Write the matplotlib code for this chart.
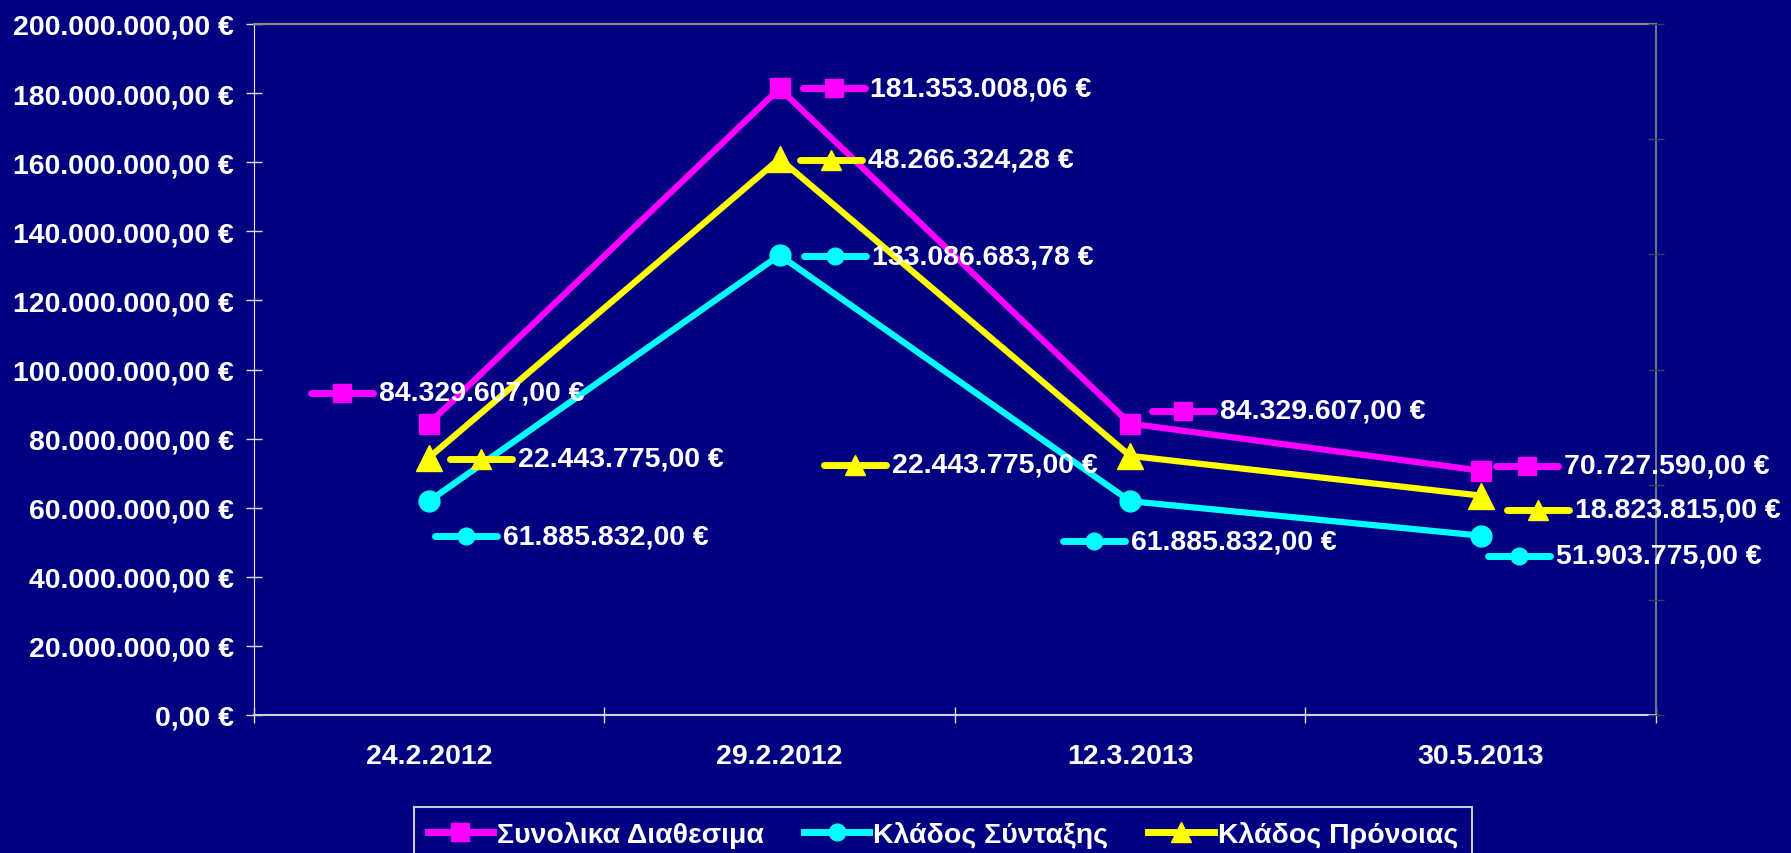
import matplotlib
matplotlib.use("Agg")
import matplotlib.pyplot as plt
import matplotlib.transforms as mtransforms
from matplotlib.lines import Line2D
from matplotlib.markers import MarkerStyle
from matplotlib.ticker import FuncFormatter

# data
dates = ["24.2.2012", "29.2.2012", "12.3.2013", "30.5.2013"]
series_names = ["Συνολικα Διαθεσιμα", "Κλάδος Σύνταξης", "Κλάδος Πρόνοιας"]

total = [84329607.00, 181353008.06, 84329607.00, 70727590.00]
pension = [61885832.00, 133086683.78, 61885832.00, 51903775.00]
# the welfare line sits higher than its own label values in the source chart
welfare_plot = [74500000, 161000000, 75000000, 63500000]
welfare_labels = [22443775.00, 48266324.28, 22443775.00, 18823815.00]

y_ticks = [0, 20e6, 40e6, 60e6, 80e6, 100e6, 120e6, 140e6, 160e6, 180e6, 200e6]

NAVY = "#000080"
colors = ["#ff00ff", "#00ffff", "#ffff00"]
markers = ["s", "o", "^"]
marker_sizes = [15, 15, 19]
key_marker_sizes = [12.5, 12, 14]

# label key offsets (pixels from the point, x to key centre, y up)
label_offsets = [
    [(-87, 31), (54, 0), (53, 13), (46, 5)],
    [(37, -35), (55, -1), (-36, -40), (38, -20)],
    [(52, -1), (51, -1), (-275, -9), (57, -14)],
]

FONT = "Liberation Sans"
FS = 20.5


def euro(v, pos=None):
    s = f"{v:,.2f}".replace(",", "X").replace(".", ",").replace("X", ".")
    return s + " €"


fig = plt.figure(figsize=(17.91, 8.54), dpi=100, facecolor=NAVY)
ax = fig.add_axes([253.6 / 1791, 1 - 716 / 854, (1656 - 253.6) / 1791, (716 - 25) / 854])
ax.set_facecolor(NAVY)

x = list(range(len(dates)))
plot_values = [total, pension, welfare_plot]
label_values = [total, pension, welfare_labels]

for vals, c, m, ms in zip(plot_values, colors, markers, marker_sizes):
    ax.plot(x, vals, color=c, lw=4.5, marker=m, ms=ms, mec=c, mfc=c, zorder=3,
            solid_joinstyle="miter")

ax.set_xlim(-0.5, len(dates) - 0.5)
ax.set_ylim(0, 200e6)

# data labels with small legend keys
key_mark = MarkerStyle("_", capstyle="round")
for s, (vals, labs, c, m) in enumerate(zip(plot_values, label_values, colors, markers)):
    for i in x:
        dx, dy = label_offsets[s][i]
        tr = mtransforms.offset_copy(ax.transData, fig=fig, x=dx, y=dy, units="dots")
        ax.plot([i], [vals[i]], marker=key_mark, ms=45, mew=5, color=c,
                transform=tr, zorder=5, clip_on=False)
        ax.plot([i], [vals[i]], marker=m, ms=key_marker_sizes[s], color=c, mec=c,
                transform=tr, zorder=6, clip_on=False)
        ax.annotate(euro(labs[i]), xy=(i, vals[i]), xytext=(dx + 37, dy),
                    textcoords="offset pixels", va="center", ha="left",
                    color="white", fontsize=FS, fontweight="bold", family=FONT,
                    zorder=7, annotation_clip=False)

# axes styling
ax.set_yticks(y_ticks)
ax.yaxis.set_major_formatter(FuncFormatter(euro))
ax.set_xticks(x)
ax.set_xticklabels(dates)
ax.set_xticks([i - 0.5 for i in range(len(dates) + 1)], minor=True)
ax.tick_params(axis="x", which="major", length=0, pad=20)
ax.tick_params(axis="x", which="minor", length=12, width=1, direction="inout", color="#e0e0e0")
ax.tick_params(axis="y", length=12, width=1, direction="inout", color="#e0e0e0", pad=8)
for lab in ax.get_xticklabels() + ax.get_yticklabels():
    lab.set_color("white")
    lab.set_fontsize(FS)
    lab.set_fontweight("bold")
    lab.set_family(FONT)

ax.spines["left"].set_color("#e6e6e6")
ax.spines["bottom"].set_color("#d0d0d0")
ax.spines["bottom"].set_linewidth(1.5)
ax.spines["top"].set_color("#8c8c8c")
ax.spines["top"].set_linewidth(1.5)
ax.spines["right"].set_color("#6e7488")
ax.spines["right"].set_linewidth(1.5)

# faint ticks on the right edge
ax2 = ax.twinx()
ax2.set_ylim(0, 6)
ax2.set_yticks(range(7))
ax2.tick_params(axis="y", length=12, width=1, direction="inout", color="#2e4a5e", labelright=False)
for sp in ax2.spines.values():
    sp.set_visible(False)

# legend
handles = [Line2D([], [], color=c, lw=5, marker=m, ms=km, mec=c)
           for c, m, km in zip(colors, markers, key_marker_sizes)]
leg = fig.legend(handles, series_names, ncol=3, loc="upper left",
                 bbox_to_anchor=(413.5 / 1791, 1 - 807.5 / 854),
                 bbox_transform=fig.transFigure, frameon=True, fancybox=False,
                 facecolor=NAVY, edgecolor="#c8c8d8", framealpha=1,
                 handlelength=2.3, handletextpad=0.14, columnspacing=1.4,
                 borderpad=0.5, borderaxespad=0,
                 prop={"family": FONT, "weight": "bold", "size": FS})
leg.get_frame().set_linewidth(1.5)
for t in leg.get_texts():
    t.set_color("white")

fig.savefig("out.png", dpi=100, facecolor=NAVY)
